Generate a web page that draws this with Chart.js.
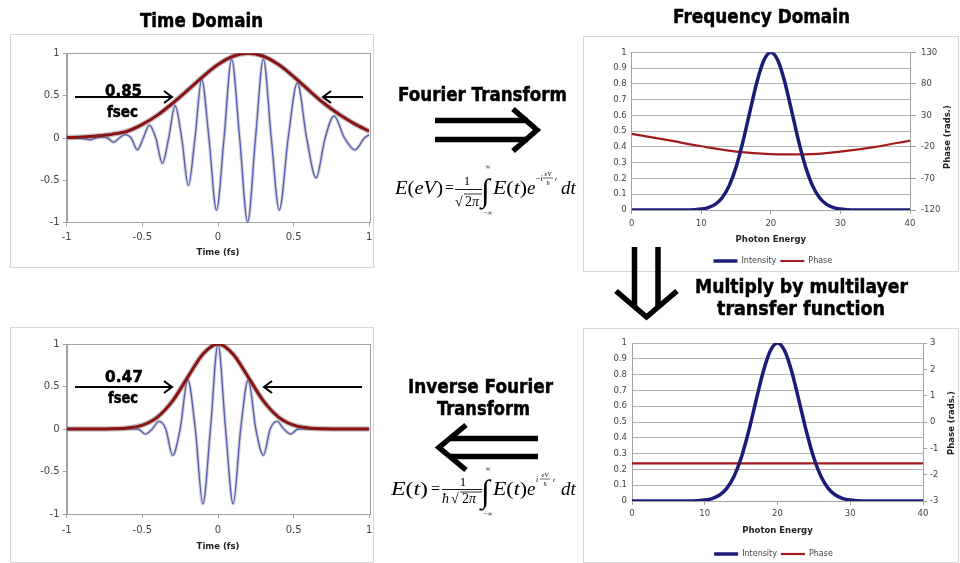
<!DOCTYPE html>
<html>
<head>
<meta charset="utf-8">
<title>Time and frequency domain</title>
<script src="https://cdn.jsdelivr.net/npm/chart.js@4.4.1/dist/chart.umd.min.js"></script>
<style>
html, body { margin: 0; padding: 0; background: #fff; }
#page { position: relative; width: 960px; height: 563px; overflow: hidden; background: #fff; }
.panel { position: absolute; border: 1px solid #d6d6d6; box-sizing: border-box; }
.box { position: absolute; }
.ytitle { position: absolute; transform: translate(-50%, -50%) rotate(-90deg); white-space: nowrap;
  font: bold 8.5px "DejaVu Sans", Verdana, sans-serif; color: #222; }
#overlay { position: absolute; left: 0; top: 0; pointer-events: none; }
</style>
</head>
<body>
<div id="page">
  <div class="panel" style="left:10px;top:34px;width:364px;height:234px"></div>
  <div class="panel" style="left:10px;top:327px;width:364px;height:236px"></div>
  <div class="panel" style="left:583px;top:36px;width:376px;height:236px"></div>
  <div class="panel" style="left:583px;top:328px;width:376px;height:235px"></div>

  <div class="box" style="left:0;top:34px;width:380px;height:234px"><canvas id="timeTop"></canvas></div>
  <div class="box" style="left:0;top:327px;width:380px;height:235px"><canvas id="timeBottom"></canvas></div>
  <div class="box" style="left:583px;top:36px;width:377px;height:246px"><canvas id="freqTop"></canvas></div>
  <div class="box" style="left:583px;top:328px;width:377px;height:244px"><canvas id="freqBottom"></canvas></div>

  <div class="ytitle" style="left:947px;top:137px">Phase (rads.)</div>
  <div class="ytitle" style="left:951px;top:423px">Phase (rads.)</div>

  <svg id="overlay" width="960" height="563" viewBox="0 0 960 563">
    <!-- headings -->
    <g font-family="'DejaVu Sans', Verdana, sans-serif" font-weight="bold" fill="#000" stroke="#000" stroke-width="0.5">
      <text x="140" y="27" font-size="19" textLength="123" lengthAdjust="spacingAndGlyphs">Time Domain</text>
      <text x="673" y="23" font-size="19" textLength="177" lengthAdjust="spacingAndGlyphs">Frequency Domain</text>
      <text x="398" y="101" font-size="19" textLength="169" lengthAdjust="spacingAndGlyphs">Fourier Transform</text>
      <text x="408" y="393" font-size="19" textLength="145" lengthAdjust="spacingAndGlyphs">Inverse Fourier</text>
      <text x="437" y="415" font-size="19" textLength="93" lengthAdjust="spacingAndGlyphs">Transform</text>
      <text x="695" y="293" font-size="19" textLength="213" lengthAdjust="spacingAndGlyphs">Multiply by multilayer</text>
      <text x="717" y="315" font-size="19" textLength="168" lengthAdjust="spacingAndGlyphs">transfer function</text>
      <text x="105" y="96" font-size="15" textLength="37" lengthAdjust="spacingAndGlyphs">0.85</text>
      <text x="107" y="117" font-size="15" textLength="31" lengthAdjust="spacingAndGlyphs">fsec</text>
      <text x="105" y="382" font-size="15" textLength="38" lengthAdjust="spacingAndGlyphs">0.47</text>
      <text x="108" y="403" font-size="15" textLength="30" lengthAdjust="spacingAndGlyphs">fsec</text>
    </g>

    <!-- pulse width markers -->
    <g stroke="#000" stroke-width="2" fill="none">
      <path d="M75 97 H172 M164 91 L172 97 L164 103"/>
      <path d="M363 97 H323 M331 91 L323 97 L331 103"/>
      <path d="M75 387 H172 M164 381 L172 387 L164 393"/>
      <path d="M362 387 H264 M272 381 L264 387 L272 393"/>
    </g>

    <!-- transform arrows -->
    <g stroke="#000" stroke-width="5.5" fill="none">
      <path d="M435 120.5 H528 M435 139.5 H528"/>
      <path d="M513 109 L537 130 L513 151"/>
      <path d="M538 438.5 H450 M538 456.5 H450"/>
      <path d="M466 425 L439 447.5 L466 470"/>
      <path d="M634.5 247 V306 M658 247 V306"/>
      <path d="M616 291 L646.5 317 L677 291"/>
    </g>

    <!-- forward transform -->
    <g font-family="'Liberation Serif', 'Times New Roman', serif" fill="#000">
      <text x="395" y="194" font-size="19" textLength="48" lengthAdjust="spacingAndGlyphs"><tspan font-style="italic">E</tspan>(<tspan font-style="italic">eV</tspan>)</text>
      <text x="445" y="193" font-size="16">=</text>
      <text x="467" y="185" font-size="13" text-anchor="middle">1</text>
      <line x1="455" y1="189.5" x2="482" y2="189.5" stroke="#000" stroke-width="0.9"/>
      <text x="455" y="206" font-size="14">√</text>
      <line x1="464" y1="194" x2="482" y2="194" stroke="#000" stroke-width="0.8"/>
      <text x="465" y="206" font-size="14">2<tspan font-style="italic">π</tspan></text>
      <text x="481" y="201" font-size="32">∫</text>
      <text x="488" y="169" font-size="7" text-anchor="middle">∞</text>
      <text x="488" y="215" font-size="7" text-anchor="middle">−∞</text>
      <text x="493" y="194" font-size="19" textLength="34" lengthAdjust="spacingAndGlyphs"><tspan font-style="italic">E</tspan>(<tspan font-style="italic">t</tspan>)</text>
      <text x="527" y="194" font-size="19" font-style="italic">e</text>
      <text x="535" y="181" font-size="8" font-style="italic">−i</text>
      <text x="548" y="176" font-size="6.5" font-style="italic" text-anchor="middle">eV</text>
      <line x1="543" y1="178" x2="553" y2="178" stroke="#000" stroke-width="0.6"/>
      <text x="548" y="185" font-size="6.5" font-style="italic" text-anchor="middle">ħ</text>
      <text x="555" y="181" font-size="7" font-style="italic">t</text>
      <text x="561" y="194" font-size="19" font-style="italic">dt</text>
    </g>

    <!-- inverse transform -->
    <g font-family="'Liberation Serif', 'Times New Roman', serif" fill="#000">
      <text x="391" y="495" font-size="19" textLength="37" lengthAdjust="spacingAndGlyphs"><tspan font-style="italic">E</tspan>(<tspan font-style="italic">t</tspan>)</text>
      <text x="431" y="494" font-size="16">=</text>
      <text x="463" y="486" font-size="13" text-anchor="middle">1</text>
      <line x1="442" y1="489.5" x2="482" y2="489.5" stroke="#000" stroke-width="0.9"/>
      <text x="442" y="503" font-size="14" font-style="italic">ħ</text>
      <text x="451" y="503" font-size="14">√</text>
      <line x1="460" y1="492" x2="482" y2="492" stroke="#000" stroke-width="0.8"/>
      <text x="462" y="503" font-size="14">2<tspan font-style="italic">π</tspan></text>
      <text x="481" y="502" font-size="32">∫</text>
      <text x="488" y="471" font-size="7" text-anchor="middle">∞</text>
      <text x="488" y="516" font-size="7" text-anchor="middle">−∞</text>
      <text x="493" y="495" font-size="19" textLength="34" lengthAdjust="spacingAndGlyphs"><tspan font-style="italic">E</tspan>(<tspan font-style="italic">t</tspan>)</text>
      <text x="527" y="495" font-size="19" font-style="italic">e</text>
      <text x="536" y="482" font-size="8" font-style="italic">i</text>
      <text x="545" y="477" font-size="6.5" font-style="italic" text-anchor="middle">eV</text>
      <line x1="540" y1="479" x2="550" y2="479" stroke="#000" stroke-width="0.6"/>
      <text x="545" y="486" font-size="6.5" font-style="italic" text-anchor="middle">ħ</text>
      <text x="553" y="482" font-size="7" font-style="italic">t</text>
      <text x="561" y="495" font-size="19" font-style="italic">dt</text>
    </g>
  </svg>
</div>

<script>
// ---- time domain: carrier extrema and zero crossings (fs, field) ----
const upperTime = [-1, -0.92, -0.846, -0.808, -0.77, -0.73, -0.69, -0.652, -0.615, -0.574,
  -0.533, -0.494, -0.454, -0.411, -0.368, -0.326, -0.284, -0.24, -0.196, -0.152,
  -0.108, -0.06, -0.01, 0.04, 0.09, 0.143, 0.196, 0.248, 0.30, 0.352,
  0.405, 0.464, 0.524, 0.586, 0.648, 0.708, 0.767, 0.836, 0.905, 0.968, 1];
const upperField = [0, 0, -0.02, 0, 0.01, 0, -0.05, 0, 0.04, 0,
  -0.14, 0, 0.15, 0, -0.30, 0, 0.38, 0, -0.56, 0,
  0.69, 0, -0.85, 0, 0.93, 0, -0.99, 0, 0.93, 0,
  -0.85, 0, 0.65, 0, -0.47, 0, 0.26, 0, -0.14, 0, 0.04];

const upperEnvTime = [-1, -0.9, -0.8, -0.7, -0.6, -0.5, -0.4, -0.3, -0.2, -0.1, 0,
  0.1, 0.2, 0.3, 0.4, 0.5, 0.6, 0.7, 0.8, 0.9, 1];
const upperEnvelope = [0.005, 0.012, 0.025, 0.045, 0.08, 0.16, 0.27, 0.41, 0.565, 0.725, 0.867,
  0.965, 1, 0.965, 0.867, 0.725, 0.565, 0.41, 0.28, 0.17, 0.08];

const lowerTime = [-1, -0.62, -0.53, -0.48, -0.435, -0.39, -0.345, -0.30, -0.25, -0.20,
  -0.15, -0.10, -0.05, 0, 0.05, 0.10, 0.15, 0.20, 0.25, 0.30,
  0.345, 0.39, 0.435, 0.48, 0.53, 0.62, 1];
const lowerField = [0, 0, 0, -0.06, 0, 0.09, 0, -0.31, 0, 0.58,
  0, -0.88, 0, 1.0, 0, -0.88, 0, 0.58, 0, -0.31,
  0, 0.09, 0, -0.06, 0, 0, 0];

const lowerEnvTime = [-1, -0.8, -0.7, -0.6, -0.5, -0.4, -0.3, -0.2, -0.1, 0,
  0.1, 0.2, 0.3, 0.4, 0.5, 0.6, 0.7, 0.8, 1];
const lowerEnvelope = [0, 0, 0.003, 0.012, 0.045, 0.14, 0.33, 0.61, 0.88, 1,
  0.88, 0.61, 0.33, 0.14, 0.045, 0.012, 0.003, 0, 0];

// ---- frequency domain ----
const photonEnergy = [0, 1, 2, 3, 4, 5, 6, 7, 8, 9, 10, 11, 12, 13, 14, 15, 16, 17, 18, 19, 20,
  21, 22, 23, 24, 25, 26, 27, 28, 29, 30, 31, 32, 33, 34, 35, 36, 37, 38, 39, 40];
const intensity = [0, 0, 0, 0, 0, 0, 0, 0, 0, 0.002, 0.006, 0.015, 0.036, 0.078, 0.153, 0.272,
  0.435, 0.626, 0.812, 0.949, 1, 0.949, 0.812, 0.626, 0.435, 0.272, 0.153, 0.078, 0.036,
  0.015, 0.006, 0.002, 0, 0, 0, 0, 0, 0, 0, 0, 0];

const phaseEnergy = [0, 5, 10, 15, 20, 25, 30, 35, 40];
const phaseBefore = [0.8, -8.8, -19, -27.5, -31.3, -31.8, -27.5, -20, -10];
const phaseAfter = [-1.57, -1.57, -1.57, -1.57, -1.57, -1.57, -1.57, -1.57, -1.57];

const unitTicks = [-1, -0.5, 0, 0.5, 1];

const fieldBlue = '#5a61b2';
const envRed = '#8c1313';
const navy = '#1b1b78';
const phaseRed = '#a31b1b';
const axisGray = '#a2a2a2';
const tickColor = '#444';
const family = "'DejaVu Sans', Verdana, sans-serif";

// strokes the whole plot area, like a spreadsheet plot frame
const plotBox = {
  id: 'plotBox',
  beforeDatasetsDraw(chart, args, opts) {
    if (!opts.color) return;
    const a = chart.chartArea;
    const ctx = chart.ctx;
    ctx.save();
    ctx.strokeStyle = opts.color;
    ctx.lineWidth = 1;
    ctx.strokeRect(Math.round(a.left) + 0.5, Math.round(a.top) + 0.5,
      Math.round(a.right - a.left), Math.round(a.bottom - a.top));
    ctx.restore();
  }
};

function pairs(xs, ys) {
  return xs.map((x, i) => ({ x: x, y: ys[i] }));
}
const tickText = v => String(+Number(v).toFixed(2));

function timeChart(id, t, field, envT, env, f) {
  return new Chart(document.getElementById(id), {
    type: 'line',
    data: {
      datasets: [
        { data: pairs(envT, env), borderColor: envRed, borderWidth: 3 },
        { data: pairs(envT, env), borderColor: 'rgba(110,110,110,0.4)', borderWidth: 5.5 },
        { data: pairs(t, field), borderColor: fieldBlue, borderWidth: 1.4 },
        { data: pairs(t, field), borderColor: 'rgba(150,150,165,0.4)', borderWidth: 3.5 }
      ]
    },
    plugins: [plotBox],
    options: {
      responsive: true,
      maintainAspectRatio: false,
      animation: false,
      events: [],
      layout: { padding: f.pad },
      elements: {
        point: { radius: 0 },
        line: { cubicInterpolationMode: 'monotone', fill: false }
      },
      plugins: {
        legend: { display: false },
        tooltip: { enabled: false },
        plotBox: { color: axisGray }
      },
      scales: {
        x: {
          type: 'linear', min: -1, max: 1,
          afterFit: s => { s.height = f.xh; },
          afterBuildTicks: s => { s.ticks = unitTicks.map(v => ({ value: v })); },
          ticks: { callback: tickText, color: tickColor, font: { family: family, size: 10 }, padding: f.xtp, maxRotation: 0 },
          grid: { drawOnChartArea: false, tickLength: 4, color: axisGray },
          border: { color: axisGray },
          title: { display: true, text: 'Time (fs)', color: '#222',
            font: { family: family, size: 8.5, weight: 'bold' }, padding: { top: 0, bottom: f.xtb } }
        },
        y: {
          min: -1, max: 1,
          afterFit: s => { s.width = f.yw; },
          afterBuildTicks: s => { s.ticks = unitTicks.map(v => ({ value: v })); },
          ticks: { callback: tickText, color: tickColor, font: { family: family, size: 10 }, padding: 3 },
          grid: { drawOnChartArea: false, tickLength: 4, color: axisGray },
          border: { color: axisGray }
        }
      }
    }
  });
}

function freqChart(id, phase, right, f) {
  return new Chart(document.getElementById(id), {
    type: 'line',
    data: {
      datasets: [
        { label: 'Intensity', data: pairs(photonEnergy, intensity), borderColor: navy, borderWidth: 3.5, yAxisID: 'y' },
        { label: 'Phase', data: pairs(phaseEnergy, phase), borderColor: phaseRed, borderWidth: 2.2, yAxisID: 'y2' }
      ]
    },
    options: {
      responsive: true,
      maintainAspectRatio: false,
      animation: false,
      events: [],
      layout: { padding: f.pad },
      elements: {
        point: { radius: 0 },
        line: { cubicInterpolationMode: 'monotone', fill: false }
      },
      plugins: {
        tooltip: { enabled: false },
        legend: {
          position: 'bottom',
          labels: { usePointStyle: true, pointStyle: 'line', pointStyleWidth: 24, boxHeight: 8,
            color: tickColor, font: { family: family, size: 8 }, padding: 4 }
        }
      },
      scales: {
        x: {
          type: 'linear', min: 0, max: 40,
          afterFit: s => { s.height = f.xh; },
          ticks: { stepSize: 10, callback: tickText, color: tickColor, font: { family: family, size: 8.5 }, padding: f.xtp, maxRotation: 0 },
          grid: { drawOnChartArea: false, tickLength: 4, color: axisGray },
          border: { color: axisGray },
          title: { display: true, text: 'Photon Energy', color: '#222',
            font: { family: family, size: 8.5, weight: 'bold' }, padding: { top: 0, bottom: f.xtb } }
        },
        y: {
          min: 0, max: 1,
          afterFit: s => { s.width = f.yw; },
          ticks: { stepSize: 0.1, callback: tickText, color: tickColor, font: { family: family, size: 8.5 }, padding: 5 },
          grid: { color: '#b2b2b2', drawTicks: false },
          border: { color: axisGray }
        },
        y2: {
          position: 'right', min: right.min, max: right.max,
          afterFit: s => { s.width = f.y2w; },
          ticks: { stepSize: right.step, callback: tickText, color: tickColor, font: { family: family, size: 8.5 }, padding: f.y2p },
          grid: { drawOnChartArea: false, tickLength: f.y2t, color: axisGray },
          border: { color: axisGray }
        }
      }
    }
  });
}

timeChart('timeTop', upperTime, upperField, upperEnvTime, upperEnvelope, {
  pad: { left: 20.7, right: 10.7, top: 19.3, bottom: 4 }, yw: 46, xh: 41.3, xtp: 5, xtb: 5.9
});
timeChart('timeBottom', lowerTime, lowerField, lowerEnvTime, lowerEnvelope, {
  pad: { left: 20.7, right: 10.7, top: 17, bottom: 4 }, yw: 46, xh: 44, xtp: 6, xtb: 5.9
});
freqChart('freqTop', phaseBefore, { min: -120, max: 130, step: 50 }, {
  pad: { left: 8.7, right: 6, top: 16.3, bottom: 7 }, yw: 40, y2w: 44, y2t: 6, y2p: 5, xh: 43, xtp: 5, xtb: 8.6
});
freqChart('freqBottom', phaseAfter, { min: -3, max: 3, step: 1 }, {
  pad: { left: 8, right: 4, top: 15, bottom: 4 }, yw: 41, y2w: 33, y2t: 4, y2p: 3, xh: 45, xtp: 4, xtb: 10.6
});
</script>
</body>
</html>
